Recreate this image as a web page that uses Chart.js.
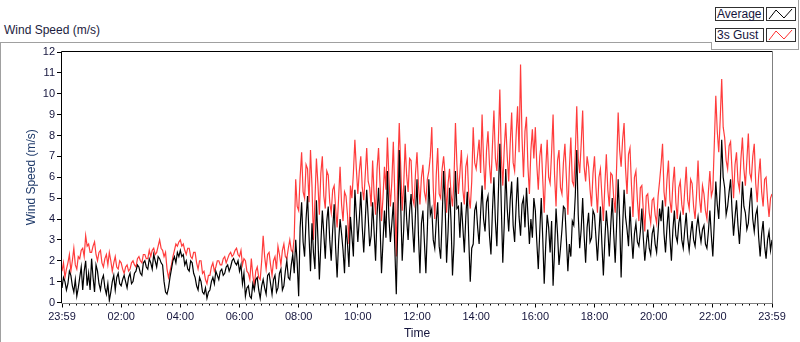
<!DOCTYPE html>
<html lang="en">
<head>
<meta charset="UTF-8" />
<title>Wind Speed</title>
<script src="https://cdn.jsdelivr.net/npm/chart.js"></script>
<style>
  body { margin: 0; background: #fff; font-family: 'Liberation Sans', Arial, sans-serif; }
  #wrap { position: relative; width: 800px; height: 342px; overflow: hidden; }
  #chart { position: absolute; left: 0; top: 0; }
  .frame { position: absolute; left: 0; top: 42px; width: 711px; height: 300px;
           border-top: 1px solid #a0a0a0; border-left: 1px solid #a0a0a0; }
  .legend-panel { position: absolute; left: 711px; top: 0; width: 87px; height: 49px;
                  border-right: 1px solid #a0a0a0; border-bottom: 1px solid #a0a0a0; }
  .legend-stub { position: absolute; left: 711px; top: 42px; width: 1px; height: 8px; background: #a0a0a0; }
  .title { position: absolute; left: 4px; top: 23px; font-size: 12px; color: #1c1c40; }
  .lbl { position: absolute; left: 715px; width: 46px; height: 12px; border: 1px solid #303030;
         font-size: 12px; line-height: 12px; color: #14143c; padding-left: 1px; background: #fff; }
  .ico { position: absolute; left: 766px; width: 28px; height: 12px; border: 1px solid #303030; background: #fff; }
  .ico svg { display: block; }
</style>
</head>
<body>
<div id="wrap">
  <div class="frame"></div>
  <div class="legend-panel"></div>
  <div class="legend-stub"></div>
  <div class="title">Wind Speed (m/s)</div>
  <div class="lbl" style="top:7px">Average</div>
  <div class="ico" style="top:7px"><svg width="28" height="12"><polyline points="2,11 9,2 17,10 25,1" fill="none" stroke="#000" stroke-width="1"/></svg></div>
  <div class="lbl" style="top:28px">3s Gust</div>
  <div class="ico" style="top:28px"><svg width="28" height="12"><polyline points="2,11 9,2 17,10 25,1" fill="none" stroke="#ff3030" stroke-width="1"/></svg></div>
  <canvas id="chart" width="800" height="342"></canvas>
</div>

<script>
  // samples every 3 minutes from 23:59 to 23:59 (one day), one row per hour
  const sampleMinutes = 3;

  const average = [
    0.7, 1.2, 1.0, 0.6, 0.9, 1.5, 1.3, 0.8, 0.5, 1.1, 0.3, 0.7, 1.2, 1.7, 0.6, 1.5, 2.0, 0.8, 1.4, 0.6,
    2.1, 1.2, 0.5, 1.8, 1.5, 0.9, 0.6, 1.1, 1.3, 0.7, 0.4, 0.9, 0.1, 0.5, 1.0, 1.3, 0.6, 1.2, 1.4, 0.9,
    0.8, 1.1, 1.3, 1.0, 0.7, 1.2, 1.4, 0.9, 1.0, 1.4, 1.5, 1.8, 1.7, 1.4, 1.3, 1.9, 2.0, 1.7, 1.6, 2.1,
    1.9, 1.6, 2.3, 2.0, 1.7, 2.2, 2.1, 1.9, 1.8, 1.0, 0.5, 0.4, 0.7, 1.2, 1.6, 2.0, 2.2, 1.9, 2.4, 2.2,
    2.5, 2.2, 2.3, 1.8, 2.0, 1.6, 1.5, 2.0, 1.9, 1.4, 1.2, 0.8, 0.6, 1.2, 1.0, 0.5, 0.4, 0.7, 0.2, 0.5,
    0.6, 1.0, 1.2, 0.9, 1.5, 1.3, 1.1, 1.5, 1.6, 1.3, 1.4, 1.7, 1.8, 1.5, 1.7, 2.0, 2.1, 1.9, 1.8, 2.0,
    1.5, 1.8, 0.9, 1.4, 0.3, 0.7, 0.8, 0.3, 0.2, 0.9, 0.6, 1.1, 1.2, 0.6, 0.2, 0.8, 1.1, 0.7, 0.4, 1.3,
    1.4, 0.9, 0.4, 1.1, 1.3, 0.5, 0.7, 1.4, 1.6, 0.6, 0.8, 1.5, 2.0, 1.2, 1.1, 1.8, 2.3, 1.4, 3.0, 1.9,
    0.3, 3.6, 4.8, 2.9, 2.2, 4.0, 5.1, 3.2, 1.5, 3.8, 2.4, 1.6, 4.9, 3.1, 1.1, 2.8, 4.4, 3.3, 2.1, 3.9,
    4.6, 3.0, 2.0, 3.5, 4.7, 2.6, 1.2, 2.9, 4.0, 3.3, 2.5, 1.4, 3.7, 2.8, 1.7, 4.1, 3.2, 2.2, 5.4, 4.2,
    2.9, 4.0, 5.3, 3.6, 2.4, 3.9, 5.4, 4.1, 2.7, 3.2, 4.8, 3.4, 2.0, 4.2, 5.5, 3.8, 1.4, 2.9, 4.4, 3.1,
    6.3, 4.1, 2.9, 3.8, 4.8, 2.6, 0.4, 3.7, 7.3, 4.6, 2.0, 3.5, 5.6, 4.0, 3.0, 4.4, 5.2, 3.6, 2.4, 4.3,
    5.9, 3.2, 1.4, 3.8, 4.4, 2.9, 1.4, 3.5, 5.9, 4.2, 4.5, 3.0, 2.6, 3.9, 4.8, 2.7, 2.1, 4.0, 6.3, 4.7,
    1.9, 3.4, 5.5, 3.9, 1.3, 2.8, 6.3, 4.5, 4.6, 3.1, 4.8, 3.6, 2.4, 4.1, 5.3, 3.0, 1.0, 2.6, 2.8, 4.4,
    4.7, 3.6, 2.8, 4.3, 5.6, 4.0, 3.4, 4.8, 5.1, 3.2, 2.3, 4.4, 6.0, 3.9, 2.7, 5.2, 7.6, 4.6, 1.9, 3.8,
    6.4, 4.5, 3.4, 4.9, 5.8, 3.7, 2.9, 4.6, 6.0, 4.1, 3.2, 4.7, 5.0, 3.6, 5.5, 4.2, 2.8, 4.0, 3.1, 5.0,
    4.4, 2.9, 1.6, 3.4, 5.0, 3.1, 0.9, 2.7, 4.2, 3.6, 2.4, 3.9, 0.8, 2.5, 4.5, 3.3, 1.8, 2.6, 3.5, 4.6,
    4.5, 3.0, 1.5, 2.8, 2.2, 3.9, 3.7, 5.1, 7.3, 4.2, 2.6, 3.5, 5.0, 3.2, 1.9, 3.6, 4.3, 2.9, 3.1, 4.4,
    4.2, 3.1, 2.0, 3.3, 4.6, 2.8, 1.3, 3.0, 4.4, 3.5, 2.2, 3.7, 5.0, 3.3, 1.9, 3.8, 5.9, 4.0, 1.2, 3.6,
    5.4, 4.1, 3.5, 2.7, 4.6, 3.2, 2.1, 3.3, 3.8, 2.9, 2.7, 3.4, 4.5, 3.1, 2.0, 2.8, 3.5, 2.6, 2.3, 3.3,
    3.6, 2.8, 2.4, 3.4, 4.5, 3.9, 4.9, 3.3, 2.4, 3.6, 4.6, 3.1, 2.0, 3.5, 4.4, 3.2, 2.9, 3.8, 4.2, 3.0,
    2.6, 3.5, 4.3, 3.1, 2.5, 3.3, 3.9, 3.0, 2.7, 3.6, 4.1, 3.4, 2.9, 3.5, 3.7, 2.8, 2.6, 3.4, 4.4, 3.2,
    2.2, 3.9, 5.8, 4.7, 4.0, 5.6, 7.8, 6.0, 5.5, 4.2, 4.6, 5.3, 5.9, 4.4, 3.2, 4.1, 4.9, 3.7, 2.8, 4.0,
    5.8, 4.6, 4.3, 3.5, 3.8, 4.8, 5.5, 4.0, 3.4, 4.2, 4.5, 3.1, 2.2, 3.3, 3.9, 2.7, 2.1, 3.0, 3.4, 2.5, 3.0
  ];

  const gust = [
    1.5, 1.9, 1.2, 1.6, 1.9, 2.3, 1.5, 2.0, 2.6, 1.8, 1.6, 2.2, 2.1, 2.5, 2.6, 2.2, 3.2, 2.7, 2.8, 2.4,
    2.4, 2.7, 2.9, 2.3, 2.0, 2.4, 2.5, 1.9, 1.7, 2.1, 2.3, 1.8, 2.4, 2.0, 1.5, 1.9, 2.2, 1.7, 1.6, 2.0,
    1.9, 1.6, 1.4, 1.7, 1.8, 1.5, 1.6, 1.9, 2.0, 1.8, 1.7, 2.1, 2.2, 2.0, 1.9, 2.3, 2.3, 2.1, 2.1, 2.5,
    2.2, 2.5, 2.6, 2.3, 2.4, 2.7, 3.0, 2.6, 2.5, 2.2, 2.4, 1.6, 1.2, 1.5, 1.8, 2.2, 2.5, 2.8, 2.7, 2.9,
    3.0, 2.7, 2.8, 2.5, 2.3, 2.6, 2.6, 2.2, 2.1, 2.4, 2.4, 1.9, 1.6, 2.0, 2.0, 1.4, 1.5, 1.1, 0.9, 1.3,
    1.3, 1.7, 1.9, 1.5, 1.7, 2.0, 2.0, 1.8, 1.8, 2.1, 2.2, 1.9, 2.1, 2.3, 2.4, 2.2, 2.3, 2.5, 2.6, 2.3,
    2.2, 2.5, 1.8, 2.1, 2.0, 1.5, 1.4, 1.1, 2.1, 1.3, 0.8, 1.5, 1.7, 1.2, 1.1, 2.0, 3.2, 2.2, 1.6, 2.3,
    2.4, 1.8, 1.3, 2.0, 2.2, 1.6, 2.7, 2.3, 1.8, 2.5, 2.8, 2.2, 2.1, 2.6, 3.0, 2.5, 2.4, 3.1, 5.9, 4.6,
    4.4, 6.0, 7.2, 5.3, 5.0, 6.6, 6.4, 4.8, 7.3, 5.6, 3.0, 4.9, 6.9, 5.7, 4.2, 6.2, 7.0, 5.1, 4.5, 6.3,
    6.1, 4.8, 4.3, 5.4, 5.6, 4.5, 3.6, 5.0, 6.5, 4.7, 3.9, 5.3, 5.1, 4.2, 2.8, 5.6, 5.0, 6.2, 7.8, 6.4,
    5.2, 6.3, 7.0, 5.5, 4.9, 6.1, 7.4, 5.8, 5.5, 4.6, 6.8, 5.2, 4.2, 6.4, 7.4, 5.7, 3.9, 5.0, 6.5, 5.4,
    7.9, 6.0, 4.6, 5.8, 7.7, 5.1, 2.2, 6.3, 8.6, 6.5, 4.4, 5.6, 7.6, 6.1, 5.3, 6.9, 6.8, 5.0, 4.7, 6.2,
    7.2, 5.6, 4.7, 6.0, 6.6, 5.3, 4.9, 5.9, 6.3, 7.0, 8.4, 5.5, 4.0, 6.1, 7.4, 5.2, 5.0, 6.4, 7.0, 6.1,
    4.3, 5.7, 6.4, 5.2, 4.6, 5.9, 8.6, 6.6, 5.2, 6.2, 7.3, 5.4, 4.7, 6.5, 6.9, 5.1, 4.5, 5.8, 8.4, 6.7,
    6.4, 7.1, 7.8, 6.2, 9.0, 6.8, 5.4, 7.3, 8.2, 6.6, 5.7, 7.5, 9.2, 6.9, 6.3, 7.7, 10.2, 7.0, 5.6, 7.4,
    8.6, 7.0, 5.8, 7.6, 9.1, 6.7, 6.3, 8.0, 9.4, 7.2, 11.4, 7.9, 6.0, 8.2, 8.9, 6.5, 5.2, 7.3, 8.3, 6.9,
    8.4, 6.6, 5.4, 7.0, 7.6, 5.9, 4.3, 6.3, 7.8, 6.0, 5.7, 7.2, 9.0, 6.1, 4.6, 6.8, 7.3, 5.5, 5.2, 6.7,
    7.6, 6.0, 4.2, 6.4, 7.9, 5.8, 5.6, 7.1, 9.4, 6.9, 6.2, 7.6, 9.2, 6.5, 5.8, 7.0, 6.5, 5.4, 4.6, 6.2,
    7.0, 5.5, 4.3, 6.0, 6.4, 5.1, 3.9, 5.6, 7.1, 5.4, 4.6, 6.2, 6.1, 5.0, 4.3, 6.6, 9.1, 7.3, 6.5, 7.8,
    8.6, 6.4, 5.2, 7.1, 7.4, 5.6, 4.1, 6.0, 6.3, 4.9, 3.9, 5.5, 5.6, 4.4, 3.4, 5.1, 5.2, 4.3, 3.8, 4.9,
    5.0, 4.2, 3.8, 5.1, 5.8, 6.6, 7.6, 5.3, 4.6, 5.9, 6.8, 4.9, 4.3, 5.7, 6.5, 4.8, 4.0, 5.5, 5.8, 4.7,
    4.2, 5.4, 6.5, 4.9, 4.5, 5.9, 5.7, 4.6, 4.0, 5.2, 6.8, 5.0, 4.3, 5.6, 5.2, 4.4, 4.0, 5.3, 6.3, 5.1,
    5.4, 7.6, 9.9, 8.2, 7.2, 8.8, 10.7, 8.4, 7.9, 6.8, 6.4, 7.5, 7.7, 6.3, 5.0, 6.6, 7.2, 5.8, 5.4, 6.9,
    7.9, 6.4, 5.6, 6.8, 8.1, 6.2, 5.9, 7.0, 7.6, 5.7, 4.8, 6.1, 6.9, 5.3, 4.6, 5.9, 6.0, 4.9, 4.1, 5.0, 5.2
  ];

  const yTicks = [0, 1, 2, 3, 4, 5, 6, 7, 8, 9, 10, 11, 12];

  function timeLabel(m) {
    if (m === 0 || m === 1440) return '23:59';
    const h = Math.round(m / 60);
    return (h < 10 ? '0' : '') + h + ':00';
  }

  const toPoints = arr => arr.map((v, i) => ({ x: i * sampleMinutes, y: v }));

  const textColor = '#14143c';
  const tickFont = { family: "'Liberation Sans', Arial, sans-serif", size: 11 };

  // plot frame: dark top/left, lighter bottom/right
  const framePlugin = {
    id: 'frame',
    afterDraw(chart) {
      const { ctx, chartArea: a } = chart;
      ctx.save();
      ctx.lineWidth = 1;
      ctx.strokeStyle = '#000';
      ctx.beginPath();
      ctx.moveTo(Math.round(a.left) - 0.5, Math.round(a.bottom));
      ctx.lineTo(Math.round(a.left) - 0.5, Math.round(a.top) - 0.5);
      ctx.lineTo(Math.round(a.right) + 0.5, Math.round(a.top) - 0.5);
      ctx.stroke();
      ctx.strokeStyle = '#808080';
      ctx.beginPath();
      ctx.moveTo(Math.round(a.right) + 0.5, Math.round(a.top) - 0.5);
      ctx.lineTo(Math.round(a.right) + 0.5, Math.round(a.bottom) + 0.5);
      ctx.lineTo(Math.round(a.left) - 0.5, Math.round(a.bottom) + 0.5);
      ctx.stroke();
      ctx.restore();
    }
  };

  new Chart(document.getElementById('chart'), {
    type: 'line',
    data: {
      datasets: [
        { label: 'Average', data: toPoints(average), borderColor: '#000', borderWidth: 1.2, pointRadius: 0, tension: 0 },
        { label: '3s Gust', data: toPoints(gust), borderColor: '#ff3c3c', borderWidth: 1.2, pointRadius: 0, tension: 0 }
      ]
    },
    options: {
      responsive: false,
      animation: false,
      events: [],
      layout: { padding: { left: 0, right: 28, top: 52, bottom: 0 } },
      plugins: { legend: { display: false }, tooltip: { enabled: false } },
      scales: {
        xMinor: {
          type: 'linear', position: 'bottom', min: 0, max: 1440, weight: 0,
          border: { display: false },
          grid: { drawOnChartArea: false, drawTicks: true, tickLength: 3, tickColor: '#000' },
          ticks: { display: false, stepSize: 15, maxTicksLimit: 1000, autoSkip: false },
          afterFit: s => { s.height = 0; }
        },
        x: {
          type: 'linear', position: 'bottom', min: 0, max: 1440, weight: 1,
          border: { display: false },
          grid: { drawOnChartArea: false, drawTicks: true, tickLength: 5, tickColor: '#000', tickWidth: 1 },
          ticks: {
            stepSize: 120, autoSkip: false, maxRotation: 0, padding: 3,
            color: textColor, font: tickFont, callback: v => timeLabel(v)
          },
          title: { display: true, text: 'Time', color: textColor, font: { family: tickFont.family, size: 12 }, padding: { top: 0, bottom: 1 } },
          afterFit: s => { s.height = 39.5; }
        },
        y: {
          min: 0, max: 12,
          border: { display: false },
          grid: { drawOnChartArea: false, drawTicks: true, tickLength: 5, tickColor: '#000' },
          afterBuildTicks: s => { s.ticks = yTicks.map(v => ({ value: v })); },
          ticks: { color: textColor, font: tickFont, padding: 2 },
          title: { display: true, text: 'Wind Speed (m/s)', color: '#1f3a6a', font: { family: tickFont.family, size: 12 }, padding: { top: 24, bottom: 0 } },
          afterFit: s => { s.width = 62; }
        }
      }
    },
    plugins: [framePlugin]
  });
</script>
</body>
</html>
